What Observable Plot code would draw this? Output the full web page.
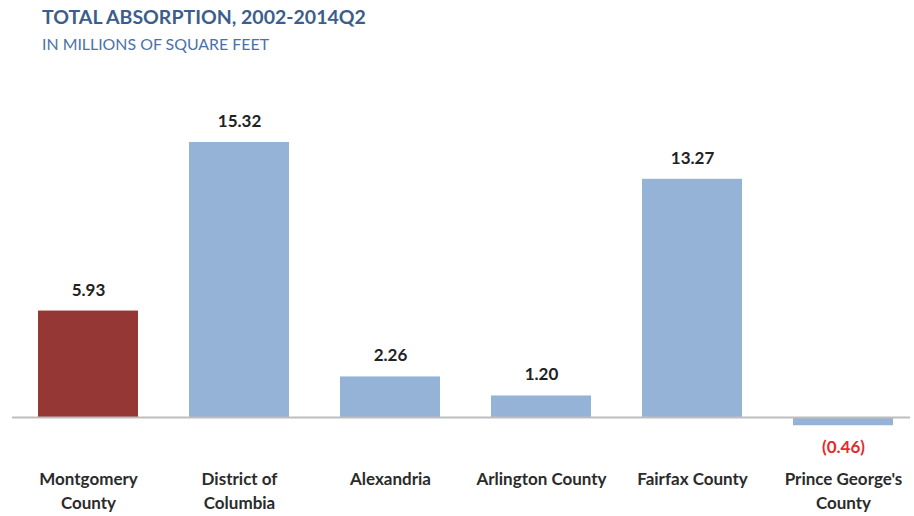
<!DOCTYPE html>
<html>
<head>
<meta charset="utf-8">
<script src="https://cdn.jsdelivr.net/npm/d3@7"></script>
<script src="https://cdn.jsdelivr.net/npm/@observablehq/plot@0.6"></script>
<style>
  html, body { margin: 0; padding: 0; background: #fff; }
  body { width: 914px; height: 516px; overflow: hidden; font-family: Lato, "Open Sans", sans-serif; }
  #head { height: 60px; position: relative; }
  #title { position: absolute; left: 42px; top: 5px; font-size: 19.5px; font-weight: bold; color: #3B5E8C; white-space: nowrap; }
  #subtitle { position: absolute; left: 42px; top: 34px; font-size: 15.9px; color: #4A72A8; white-space: nowrap; }
  svg { display: block; }
</style>
</head>
<body>
<div id="head">
  <div id="title">TOTAL ABSORPTION, 2002-2014Q2</div>
  <div id="subtitle">IN MILLIONS OF SQUARE FEET</div>
</div>
<div id="chart"></div>
<script>
const categories = ["Montgomery County", "District of Columbia", "Alexandria", "Arlington County", "Fairfax County", "Prince George's County"];
const categoryLabels = ["Montgomery\nCounty", "District of\nColumbia", "Alexandria", "Arlington County", "Fairfax County", "Prince George's\nCounty"];
const values = [5.93, 15.32, 2.26, 1.20, 13.27, -0.46];
const valueLabels = ["5.93", "15.32", "2.26", "1.20", "13.27", "(0.46)"];
const highlight = ["Montgomery County"];

const data = categories.map((c, i) => ({name: c, label: categoryLabels[i], value: values[i], vlabel: valueLabels[i]}));

const chart = Plot.plot({
  width: 914,
  height: 456,
  marginLeft: 12,
  marginRight: 4,
  marginTop: 0,
  marginBottom: 56,
  style: {fontFamily: "Lato, 'Open Sans', sans-serif", background: "#fff"},
  x: {type: "band", domain: categories, range: [12, 918], paddingInner: 0.34, paddingOuter: 0.17, axis: null},
  y: {domain: [0, 15.32], range: [357, 82], axis: null},
  marks: [
    Plot.barY(data, {x: "name", y: "value", fill: d => highlight.includes(d.name) ? "#953735" : "#95B3D7"}),
    Plot.ruleY([0], {stroke: "#BDBDBD", strokeWidth: 2}),
    Plot.text(data.filter(d => d.value >= 0), {x: "name", y: "value", text: "vlabel", dy: -21, fontSize: 17, fontWeight: "bold", fill: "#222"}),
    Plot.text(data.filter(d => d.value < 0), {x: "name", y: "value", text: "vlabel", dy: 22, fontSize: 17, fontWeight: "bold", fill: "#E8282B"}),
    Plot.text(data, {x: "name", frameAnchor: "bottom", text: "label", lineAnchor: "top", dy: 7, lineHeight: 1.42, fontSize: 17, fontWeight: "bold", fill: "#2b2b2b"})
  ]
});
document.getElementById("chart").appendChild(chart);
</script>
</body>
</html>
